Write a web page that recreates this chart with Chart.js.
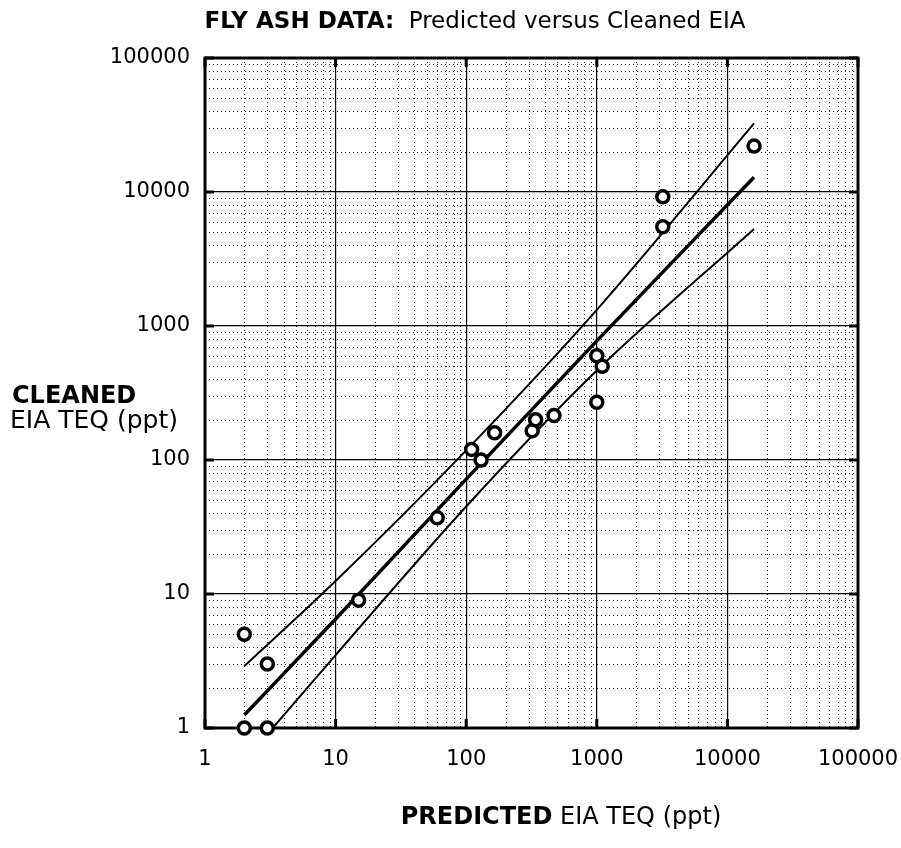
<!DOCTYPE html>
<html>
<head>
<meta charset="utf-8">
<title>Fly Ash Data</title>
<script src="https://cdn.jsdelivr.net/npm/chart.js@4.4.0/dist/chart.umd.min.js"></script>
<style>
    html, body { margin: 0; padding: 0; background: #ffffff; }
    #wrap { width: 901px; height: 848px; }
</style>
</head>
<body>
<div id="wrap"><canvas id="flyAshChart" width="901" height="848"></canvas></div>
<script>
(function () {
    "use strict";

    // measured samples: predicted vs cleaned EIA TEQ (ppt)
    var predicted = [2, 2, 3, 3, 15, 60, 110, 130, 165, 320, 340, 470, 1000, 1100, 1000, 3200, 3200, 16000];
    var cleaned = [5, 1, 3, 1, 9, 37, 120, 100, 160, 165, 200, 215, 600, 500, 270, 9200, 5500, 22000];

    // regression line and its confidence band
    var fitX = [2, 10, 100, 1000, 16000];
    var fitY = [1.25, 6.5, 72, 775, 12900];
    var upperX = [2, 10, 100, 1000, 16000];
    var upperY = [2.9, 12.5, 118, 1320, 32500];
    var lowerX = [3.3, 10, 100, 1000, 16000];
    var lowerY = [1, 3.5, 45, 465, 5300];

    var decadeTicks = [1, 10, 100, 1000, 10000, 100000];
    var minorSteps = [2, 3, 4, 5, 6, 7, 8, 9];

    var fontFamily = "'DejaVu Sans', 'Liberation Sans', Arial, sans-serif";

    function ToPoints(xs, ys) {
        var _points = [];
        for (var i = 0; i < xs.length; i++) {
            _points.push({ x: xs[i], y: ys[i] });
        }
        return _points;
    }

    function MinorValues() {
        var _values = [];
        for (var d = 0; d < decadeTicks.length - 1; d++) {
            for (var s = 0; s < minorSteps.length; s++) {
                _values.push(decadeTicks[d] * minorSteps[s]);
            }
        }
        return _values;
    }

    function DecadeTicks(scale) {
        scale.ticks = decadeTicks.map(function (v) { return { value: v }; });
    }

    // dotted minor grid, frame and inner tick marks
    var gridPlugin = {
        id: "flyAshGrid",
        beforeDatasetsDraw: function (chart) {
            var ctx = chart.ctx;
            var area = chart.chartArea;
            var xScale = chart.scales.x;
            var yScale = chart.scales.y;
            var minors = MinorValues();

            ctx.save();
            ctx.strokeStyle = "#222222";
            ctx.lineWidth = 1;
            ctx.setLineDash([1, 3]);
            minors.forEach(function (v) {
                var px = Math.round(xScale.getPixelForValue(v)) + 0.5;
                var py = Math.round(yScale.getPixelForValue(v)) + 0.5;
                ctx.beginPath();
                ctx.moveTo(px, area.top);
                ctx.lineTo(px, area.bottom);
                ctx.stroke();
                ctx.beginPath();
                ctx.moveTo(area.left, py);
                ctx.lineTo(area.right, py);
                ctx.stroke();
            });
            ctx.setLineDash([]);

            // inner tick marks at decades
            ctx.strokeStyle = "#000000";
            ctx.lineWidth = 3;
            decadeTicks.forEach(function (v) {
                var px = xScale.getPixelForValue(v);
                var py = yScale.getPixelForValue(v);
                ctx.beginPath();
                ctx.moveTo(px, area.top);
                ctx.lineTo(px, area.top + 9);
                ctx.moveTo(px, area.bottom);
                ctx.lineTo(px, area.bottom - 9);
                ctx.moveTo(area.left, py);
                ctx.lineTo(area.left + 9, py);
                ctx.moveTo(area.right, py);
                ctx.lineTo(area.right - 9, py);
                ctx.stroke();
            });

            ctx.lineWidth = 3;
            ctx.strokeRect(area.left, area.top, area.right - area.left, area.bottom - area.top);
            ctx.restore();
        }
    };

    function DrawMixed(ctx, boldText, plainText, size, cx, cy, align) {
        ctx.font = "bold " + size + "px " + fontFamily;
        var _boldW = ctx.measureText(boldText).width;
        ctx.font = size + "px " + fontFamily;
        var _plainW = ctx.measureText(plainText).width;
        var _x = align === "center" ? cx - (_boldW + _plainW) / 2 : cx;
        ctx.textBaseline = "middle";
        ctx.textAlign = "left";
        ctx.font = "bold " + size + "px " + fontFamily;
        ctx.fillText(boldText, _x, cy);
        ctx.font = size + "px " + fontFamily;
        ctx.fillText(plainText, _x + _boldW, cy);
    }

    // titles with mixed bold / regular runs
    var titlePlugin = {
        id: "flyAshTitles",
        afterDraw: function (chart) {
            var ctx = chart.ctx;
            ctx.save();
            ctx.fillStyle = "#000000";
            DrawMixed(ctx, "FLY ASH DATA:", "  Predicted versus Cleaned EIA", 23, 475, 22, "center");
            DrawMixed(ctx, "PREDICTED", " EIA TEQ (ppt)", 24, 561, 818, "center");
            ctx.textBaseline = "middle";
            ctx.textAlign = "left";
            ctx.font = "bold 24px " + fontFamily;
            ctx.fillText("CLEANED", 12, 397);
            ctx.font = "25px " + fontFamily;
            ctx.fillText("EIA TEQ (ppt)", 10, 421);
            ctx.restore();
        }
    };

    function Init() {
        var ctx = document.getElementById("flyAshChart");
        var myChart = new Chart(ctx, {
            type: "scatter",
            data: {
                datasets: [{
                    label: "Samples",
                    data: ToPoints(predicted, cleaned),
                    showLine: false,
                    pointStyle: "circle",
                    pointRadius: 6,
                    pointBorderWidth: 3.5,
                    pointBorderColor: "#000000",
                    pointBackgroundColor: "#ffffff",
                    clip: false,
                    order: 0
                }, {
                    label: "Fit",
                    data: ToPoints(fitX, fitY),
                    showLine: true,
                    borderColor: "#000000",
                    borderWidth: 3.5,
                    pointRadius: 0,
                    cubicInterpolationMode: "monotone",
                    order: 1
                }, {
                    label: "Upper",
                    data: ToPoints(upperX, upperY),
                    showLine: true,
                    borderColor: "#000000",
                    borderWidth: 2,
                    pointRadius: 0,
                    cubicInterpolationMode: "monotone",
                    order: 1
                }, {
                    label: "Lower",
                    data: ToPoints(lowerX, lowerY),
                    showLine: true,
                    borderColor: "#000000",
                    borderWidth: 2,
                    pointRadius: 0,
                    cubicInterpolationMode: "monotone",
                    order: 1
                }]
            },
            options: {
                responsive: false,
                animation: false,
                layout: {
                    padding: { top: 58, right: 43, left: 0, bottom: 0 }
                },
                plugins: {
                    legend: { display: false },
                    title: { display: false },
                    tooltip: { enabled: false }
                },
                scales: {
                    x: {
                        type: "logarithmic",
                        min: 1,
                        max: 100000,
                        afterBuildTicks: DecadeTicks,
                        afterFit: function (scale) {
                            scale.height = 120;
                            scale.paddingLeft = 0;
                            scale.paddingRight = 0;
                        },
                        grid: { color: "#000000", lineWidth: 1.2, drawTicks: false },
                        border: { display: false },
                        ticks: {
                            color: "#000000",
                            padding: 19,
                            maxRotation: 0,
                            font: { family: fontFamily, size: 21 },
                            callback: function (value) { return String(value); }
                        }
                    },
                    y: {
                        type: "logarithmic",
                        min: 1,
                        max: 100000,
                        afterBuildTicks: DecadeTicks,
                        afterFit: function (scale) {
                            scale.width = 205;
                            scale.paddingTop = 0;
                            scale.paddingBottom = 0;
                        },
                        grid: { color: "#000000", lineWidth: 1.2, drawTicks: false },
                        border: { display: false },
                        ticks: {
                            color: "#000000",
                            padding: 15,
                            font: { family: fontFamily, size: 21 },
                            callback: function (value) { return String(value); }
                        }
                    }
                }
            },
            plugins: [gridPlugin, titlePlugin]
        });
        myChart.update();
    }

    Init();
})();
</script>
</body>
</html>
